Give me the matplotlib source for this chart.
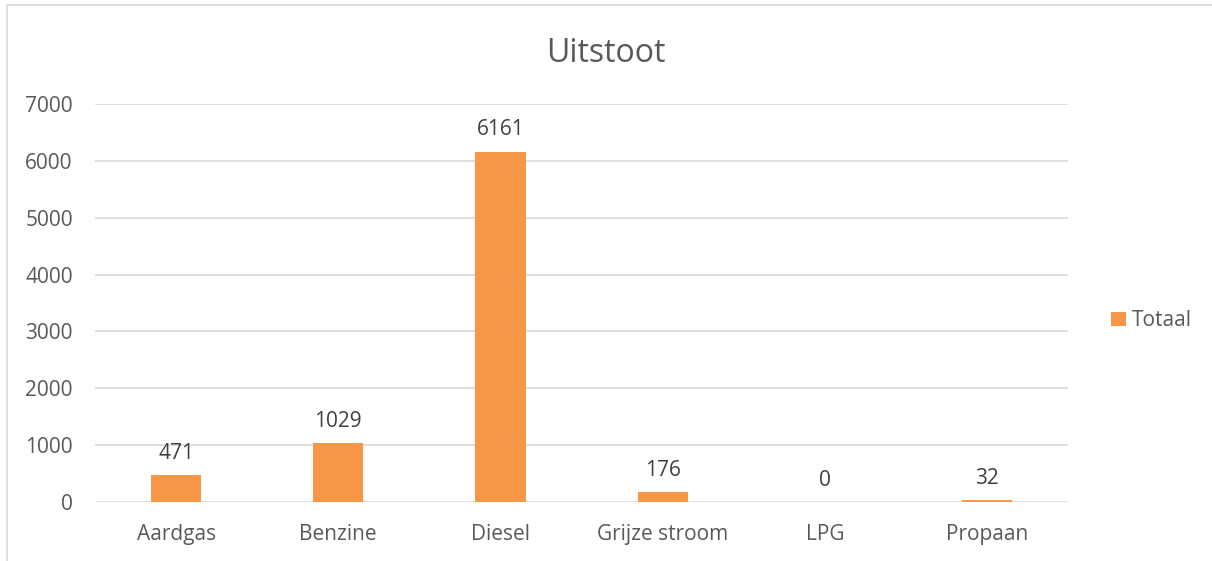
import matplotlib.pyplot as plt
from matplotlib.patches import Rectangle

categories = ['Aardgas', 'Benzine', 'Diesel', 'Grijze stroom', 'LPG', 'Propaan']
totaal = [471, 1029, 6161, 176, 0, 32]
yticks = [0, 1000, 2000, 3000, 4000, 5000, 6000, 7000]

plt.rcParams['font.family'] = ['Open Sans', 'DejaVu Sans']

fig = plt.figure(figsize=(12.12, 5.61), dpi=100)
ax = fig.add_axes([0.0784, 0.1052, 0.8029, 0.7094])

# chart border (cut off at right/bottom in the original)
fig.patches.append(Rectangle((7 / 1212, -0.1), 1.2, 1 - 5 / 561 + 0.1,
                             transform=fig.transFigure, fill=False,
                             edgecolor='#D9D9D9', linewidth=1.2))

x = range(len(categories))
bars = ax.bar(x, totaal, width=0.31, color='#F79646', label='Totaal', zorder=3)
for xi, v in zip(x, totaal):
    ax.text(xi, v + 200, str(v), ha='center', va='bottom', fontsize=15, color='#404040')

ax.set_xlim(-0.5, len(categories) - 0.5)
ax.set_ylim(0, 7000)
ax.set_yticks(yticks)
ax.set_xticks(list(x))
ax.set_xticklabels(categories)
ax.tick_params(axis='both', length=0, labelsize=15, labelcolor='#595959')
ax.tick_params(axis='y', pad=16)
ax.tick_params(axis='x', pad=16)
ax.grid(axis='y', color='#D9D9D9', linewidth=1.2, zorder=0)
for s in ax.spines.values():
    s.set_visible(False)

fig.text(0.5, 1 - 53 / 561, 'Uitstoot', ha='center', va='center', fontsize=23, color='#595959')
ax.legend(loc='center left', bbox_to_anchor=(1.025, 0.455), frameon=False, fontsize=15,
          labelcolor='#595959', handlelength=0.7, handleheight=0.7, handletextpad=0.3)

fig.savefig('out.png', dpi=100)
